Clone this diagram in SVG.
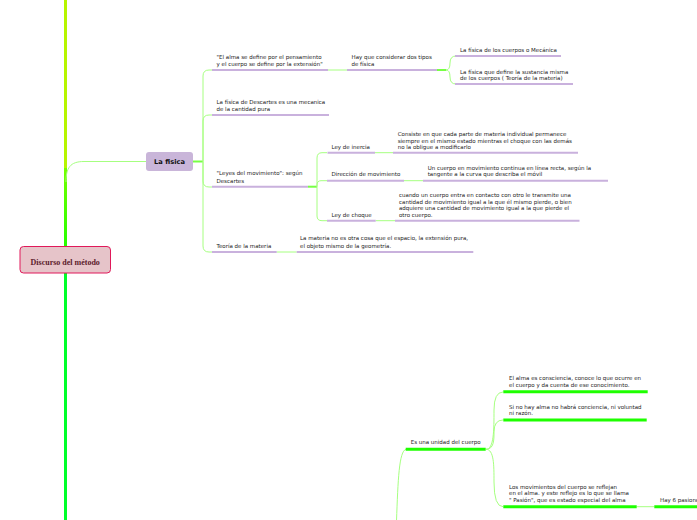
<svg xmlns="http://www.w3.org/2000/svg" width="697" height="520" viewBox="0 0 697 520">
<style>
.t{font-family:"DejaVu Sans",Verdana,sans-serif;font-size:5.5px;fill:#222}
.ul{stroke:#c9b1dd;stroke-width:2;fill:none}
.ug{stroke:#1eff00;stroke-width:3;fill:none}
.c{stroke:#a6ff80;stroke-width:1;fill:none}
.cg{stroke:#77ff44;stroke-width:2;fill:none}
</style>
<defs>
<linearGradient id="tr" x1="0" y1="160" x2="0" y2="250" gradientUnits="userSpaceOnUse">
<stop offset="0" stop-color="#7dff00"/>
<stop offset="1" stop-color="#22ff00"/>
</linearGradient>
</defs>
<rect width="697" height="520" fill="#fff"/>
<g id="connectors">
<line x1="65.5" y1="0" x2="65.5" y2="250" stroke="#b6f500" stroke-width="3"/>
<line x1="65.5" y1="168" x2="65.5" y2="250" stroke="url(#tr)" stroke-width="3"/>
<line x1="65.5" y1="272" x2="65.5" y2="520" stroke="#00ff2a" stroke-width="3"/>
<path class="c" d="M66 182 C66 168 70 161.5 84 161.5 H146" stroke-width="1.3"/>
<path class="cg" d="M193 161.5 H203"/>
<path class="c" d="M203 161.5 V76 Q203 70 209 70 H212"/>
<path class="c" d="M203 161.5 V121 Q203 115 209 115 H212"/>
<path class="c" d="M203 161.5 V181 Q203 187 209 187 H212"/>
<path class="c" d="M203 161.5 V246 Q203 252 209 252 H212"/>
<path class="c" d="M328 70 H347"/>
<path class="cg" d="M437 70 H446"/>
<path class="c" d="M446 70 Q450 70 450 63 Q450 56 456 56"/>
<path class="c" d="M446 70 Q450 70 450 77 Q450 84 456 84"/>
<path class="cg" d="M308 186.7 H317"/>
<path class="c" d="M317 186.7 V158 Q317 152.7 322 152.7 H327"/>
<path class="c" d="M317 186.7 V185 Q317 180.7 321 180.7 H327"/>
<path class="c" d="M317 186.7 V216 Q317 220.7 322 220.7 H327"/>
<path class="c" d="M375 152.7 H393"/>
<path class="c" d="M404 180.7 H423"/>
<path class="c" d="M375.7 220.7 H395"/>
<path class="c" d="M276.7 252 H296.7"/>
<path class="c" d="M396.5 521 C398 480 399 451 406 449.3"/>
<path class="c" d="M486 449.3 C494 449.3 494 430 494 410 Q494 392 503 392"/>
<path class="c" d="M486 449.3 C494 449.3 494 440 494 432 Q494 420 503 420"/>
<path class="c" d="M486 449.3 C494 449.3 494 465 494 482 Q494 506.7 503 506.7"/>
<path class="c" d="M636.7 506.7 H654.3"/>
</g>
<g id="root">
<rect x="20" y="246.5" width="90.5" height="26.5" rx="3.5" fill="#e6c4c9" stroke="#e0195a" stroke-width="1"/>
<text x="65.2" y="264.5" text-anchor="middle" font-family="'Liberation Serif',serif" font-weight="bold" font-size="8" fill="#5c1a2b">Discurso del método</text>
</g>
<g id="n-fisica">
<rect x="146" y="152" width="47" height="19" rx="3" fill="#c9b5d9"/>
<text x="169.5" y="164" text-anchor="middle" font-family="'DejaVu Sans',sans-serif" font-weight="bold" font-size="6.7" fill="#111">La fisica</text>
</g>
<g id="n-alma">
<text class="t"><tspan x="216.5" y="58.7">"El alma se define por el pensamiento</tspan><tspan x="216.5" y="66">y el cuerpo se define por la extensión"</tspan></text>
<path class="ul" d="M212 70 H328"/>
</g>
<g id="n-hay">
<text class="t"><tspan x="351.5" y="58.7">Hay que considerar dos tipos</tspan><tspan x="351.5" y="66">de física</tspan></text>
<path class="ul" d="M347 70 H437"/>
</g>
<g id="n-mecanica">
<text class="t" x="460" y="52">La física de los cuerpos o Mecánica</text>
<path class="ul" d="M455 56 H561"/>
</g>
<g id="n-sustancia">
<text class="t"><tspan x="460" y="73.7">La física que define la sustancia misma</tspan><tspan x="460" y="80.3">de los cuerpos ( Teoría de la materia)</tspan></text>
<path class="ul" d="M455 84 H573"/>
</g>
<g id="n-mecanica-cantidad">
<text class="t"><tspan x="216.5" y="104">La física de Descartes es una mecanica</tspan><tspan x="216.5" y="111">de la cantidad pura</tspan></text>
<path class="ul" d="M212 115 H329"/>
</g>
<g id="n-leyes">
<text class="t"><tspan x="216.5" y="175.3">"Leyes del movimiento": según</tspan><tspan x="216.5" y="183">Descartes</tspan></text>
<path class="ul" d="M212 186.7 H308"/>
</g>
<g id="n-inercia">
<text class="t" x="331.5" y="148.7">Ley de inercia</text>
<path class="ul" d="M327.5 152.7 H375"/>
</g>
<g id="n-inercia-def">
<text class="t"><tspan x="397.7" y="136.3">Consiste en que cada parte de materia individual permanece</tspan><tspan x="397.7" y="142.7">siempre en el mismo estado mientras el choque con las demás</tspan><tspan x="397.7" y="148.7">no la obligue a modificarlo</tspan></text>
<path class="ul" d="M393 152.7 H578"/>
</g>
<g id="n-direccion">
<text class="t" x="331.5" y="176">Dirección de movimiento</text>
<path class="ul" d="M327 180.7 H404"/>
</g>
<g id="n-direccion-def">
<text class="t"><tspan x="427.7" y="170.3">Un cuerpo en movimiento continua en línea recta, según la</tspan><tspan x="427.7" y="176.3">tangente a la curva que describa el móvil</tspan></text>
<path class="ul" d="M423 180.7 H608"/>
</g>
<g id="n-choque">
<text class="t" x="331.5" y="217">Ley de choque</text>
<path class="ul" d="M327 220.7 H375.7"/>
</g>
<g id="n-choque-def">
<text class="t"><tspan x="399" y="197">cuando un cuerpo entra en contacto con otro le transmite una</tspan><tspan x="399" y="203.7">cantidad de movimiento igual a la que él mismo pierde, o bien</tspan><tspan x="399" y="210.3">adquiere una cantidad de movimiento igual a la que pierde el</tspan><tspan x="399" y="217">otro cuerpo.</tspan></text>
<path class="ul" d="M395 220.7 H579.5"/>
</g>
<g id="n-teoria">
<text class="t" x="216.5" y="248">Teoría de la materia</text>
<path class="ul" d="M212 252 H276.7"/>
</g>
<g id="n-teoria-def">
<text class="t"><tspan x="300" y="240.3">La materia no es otra cosa que el espacio, la extensión pura,</tspan><tspan x="300" y="248">el objeto mismo de la geometría.</tspan></text>
<path class="ul" d="M296.7 252 H473.3"/>
</g>
<g id="n-unidad">
<text class="t" x="410.7" y="443.7">Es una unidad del cuerpo</text>
<path class="ug" d="M405.7 449.3 H485.7"/>
</g>
<g id="n-consciencia">
<text class="t"><tspan x="509" y="380.3">El alma es consciencia, conoce lo que ocurre en</tspan><tspan x="509" y="387">el cuerpo y da cuenta de ese conocimiento.</tspan></text>
<path class="ug" d="M503.3 391.7 H647.7"/>
</g>
<g id="n-sinalma">
<text class="t"><tspan x="509" y="408.7">Si no hay alma no habrá conciencia, ni voluntad</tspan><tspan x="509" y="415.3">ni razón.</tspan></text>
<path class="ug" d="M503.3 420 H646.7"/>
</g>
<g id="n-movimientos">
<text class="t"><tspan x="509" y="488.7">Los movimientos del cuerpo se reflejan</tspan><tspan x="509" y="495.3">en el alma. y este reflejo es lo que se llama</tspan><tspan x="509" y="502">" Pasión", que es estado especial del alma</tspan></text>
<path class="ug" d="M503.3 506.7 H636.7"/>
</g>
<g id="n-pasiones">
<text class="t" x="660" y="502">Hay 6 pasiones</text>
<path class="ug" d="M654.3 506.7 H700"/>
</g>
</svg>
